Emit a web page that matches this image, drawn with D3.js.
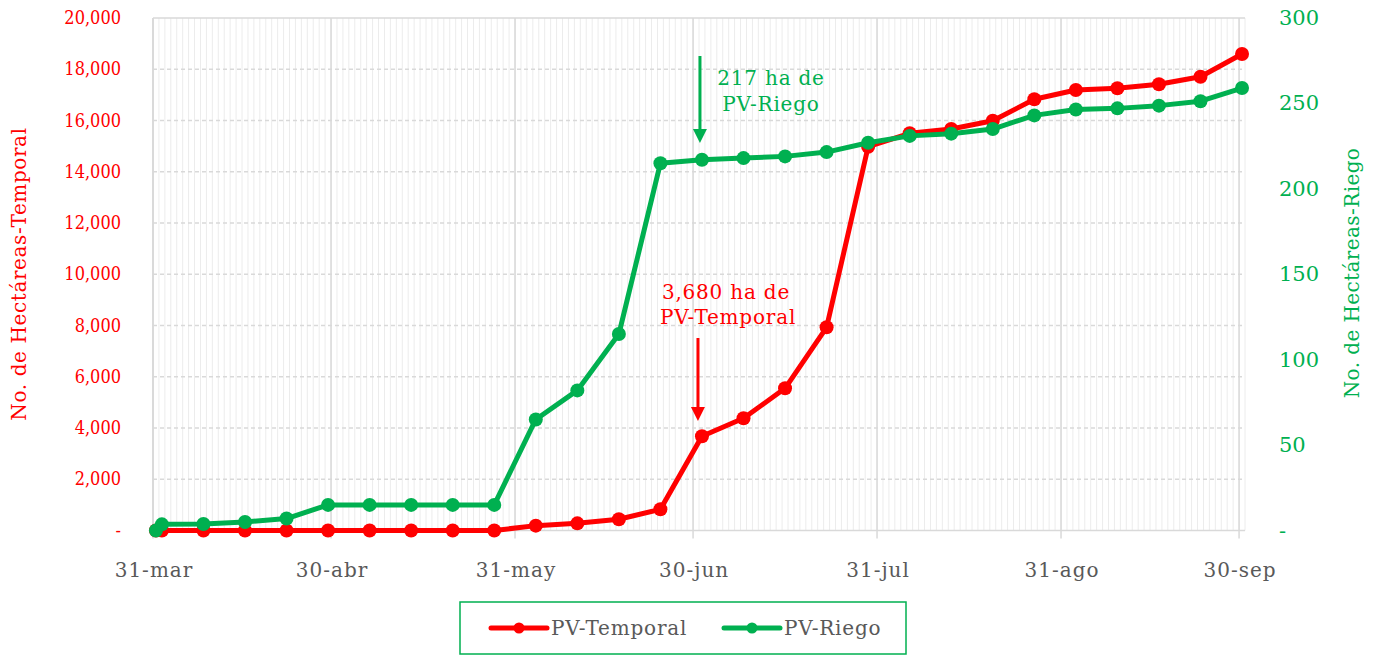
<!DOCTYPE html>
<html><head><meta charset="utf-8">
<script src="https://cdn.jsdelivr.net/npm/d3@7"></script>
<style>
html,body{margin:0;padding:0;background:#fff;}
svg text{font-family:"DejaVu Serif",serif;}
svg text.cond{font-family:"DejaVu Serif Condensed","DejaVu Serif",serif;}
</style></head>
<body>
<svg id="chart" width="1374" height="656"></svg>
<script>
const dates = ["2023-03-31","2023-04-01","2023-04-08","2023-04-15","2023-04-22","2023-04-29","2023-05-06","2023-05-13","2023-05-20","2023-05-27","2023-06-03","2023-06-10","2023-06-17","2023-06-24","2023-07-01","2023-07-08","2023-07-15","2023-07-22","2023-07-29","2023-08-05","2023-08-12","2023-08-19","2023-08-26","2023-09-02","2023-09-09","2023-09-16","2023-09-23","2023-09-30"];
const temporal = [0,0,0,0,0,0,0,0,0,0,190,280,437,827,3680,4378,5549,7930,14977,15500,15668,15992,16827,17190,17256,17412,17709,18595];
const riego = [0,3.6,3.8,5,7,15,15,15,15,15,65,82,115,215,217,218,219,221.5,227,231,232.3,235,243,246.4,247.1,248.7,251.3,259];
const xTickDates = ["2023-03-31","2023-04-30","2023-05-31","2023-06-30","2023-07-31","2023-08-31","2023-09-30"];
const xTickLabels = ["31-mar","30-abr","31-may","30-jun","31-jul","31-ago","30-sep"];
const leftTicks = [0,2000,4000,6000,8000,10000,12000,14000,16000,18000,20000];
const rightTicks = [0,50,100,150,200,250,300];
const seriesNames = ["PV-Temporal","PV-Riego"];

const RED = "#FF0000", GREEN = "#00B050", GRAY = "#595959";
const parse = d3.timeParse("%Y-%m-%d");
const svg = d3.select("#chart");
const L = 153, R = 1245, T = 18, B = 530.5;

const x = d3.scaleTime().domain([parse("2023-03-31"), parse("2023-10-01")]).range([L, R]);
const xc = d => x(d3.timeHour.offset(d, 12)); // point at day centre
const yL = d3.scaleLinear().domain([0,20000]).range([B, T]);
const yR = d3.scaleLinear().domain([0,300]).range([B, T]);

// minor daily gridlines
const days = d3.timeDay.range(parse("2023-03-31"), parse("2023-10-02"));
svg.append("g").selectAll("line").data(days).join("line")
  .attr("x1", d => x(d)).attr("x2", d => x(d)).attr("y1", T).attr("y2", B)
  .attr("stroke", "#ececec").attr("stroke-width", 1);
// horizontal dashed gridlines
svg.append("g").selectAll("line").data(leftTicks.slice(1)).join("line")
  .attr("x1", L).attr("x2", R).attr("y1", d => yL(d)).attr("y2", d => yL(d))
  .attr("stroke", "#d9d9d9").attr("stroke-width", 1.3)
  .attr("stroke-dasharray", d => d === 20000 ? null : "4,3");
// major monthly gridlines
const majors = xTickDates.map(parse);
svg.append("g").selectAll("line").data(majors).join("line")
  .attr("x1", d => x(d)).attr("x2", d => x(d)).attr("y1", T).attr("y2", B + 8)
  .attr("stroke", "#d9d9d9").attr("stroke-width", 1.5);
// left border and bottom axis
svg.append("line").attr("x1", L).attr("x2", L).attr("y1", T).attr("y2", B).attr("stroke", "#d9d9d9").attr("stroke-width", 1.5);
svg.append("line").attr("x1", L).attr("x2", R).attr("y1", B).attr("y2", B).attr("stroke", "#d9d9d9").attr("stroke-width", 1.5);

// axes labels
svg.append("g").selectAll("text").data(xTickDates).join("text")
  .attr("x", d => x(parse(d)) + 1).attr("y", 577).attr("text-anchor", "middle")
  .attr("fill", GRAY).attr("font-size", 20).attr("letter-spacing", 1).text((d, i) => xTickLabels[i]);
const fmt = d3.format(",");
svg.append("g").selectAll("text").data(leftTicks).join("text")
  .attr("class", "cond")
  .attr("x", 121).attr("y", d => yL(d) + 6).attr("text-anchor", "end")
  .attr("fill", RED).attr("font-size", 18).text(d => d === 0 ? "-" : fmt(d));
svg.append("g").selectAll("text").data(rightTicks).join("text")
  .attr("x", 1279).attr("y", d => yR(d) + 7).attr("text-anchor", "start")
  .attr("fill", GREEN).attr("font-size", 21).text(d => d === 0 ? "-" : fmt(d));

svg.append("text").attr("transform", "translate(26,274) rotate(-90)").attr("text-anchor", "middle")
  .attr("fill", RED).attr("font-size", 20).attr("letter-spacing", 0.6).text("No. de Hectáreas-Temporal");
svg.append("text").attr("transform", "translate(1359,273) rotate(-90)").attr("text-anchor", "middle")
  .attr("fill", GREEN).attr("font-size", 20).attr("letter-spacing", 0.4).text("No. de Hectáreas-Riego");

// series
const tData = dates.map((d, i) => ({d: parse(d), v: temporal[i]}));
const rData = dates.map((d, i) => ({d: parse(d), v: riego[i]}));
function drawSeries(data, y, color) {
  const g = svg.append("g");
  g.append("path").datum(data)
    .attr("d", d3.line().x(p => xc(p.d)).y(p => y(p.v)))
    .attr("fill", "none").attr("stroke", color).attr("stroke-width", 5).attr("stroke-linejoin", "round");
  g.selectAll("circle").data(data).join("circle")
    .attr("cx", p => xc(p.d)).attr("cy", p => y(p.v)).attr("r", 7).attr("fill", color);
}
drawSeries(tData, yL, RED);
drawSeries(rData, yR, GREEN);

// annotations
const arrDate = parse("2023-07-01");
function arrow(xp, y1, y2, color) {
  svg.append("line").attr("x1", xp).attr("x2", xp).attr("y1", y1).attr("y2", y2 - 12)
    .attr("stroke", color).attr("stroke-width", 3);
  svg.append("path").attr("d", `M${xp-7},${y2-14}L${xp+7},${y2-14}L${xp},${y2}Z`).attr("fill", color);
}
arrow(xc(arrDate) - 2, 56, 143, GREEN);
arrow(xc(arrDate) - 4, 338, 421, RED);
const annStyle = s => s.attr("text-anchor", "middle").attr("font-size", 20).attr("letter-spacing", 0.8);
svg.append("text").attr("x", 771).attr("y", 85).attr("fill", GREEN).call(annStyle).text("217 ha de");
svg.append("text").attr("x", 771).attr("y", 111).attr("fill", GREEN).call(annStyle).text("PV-Riego");
svg.append("text").attr("x", 726).attr("y", 299).attr("fill", RED).call(annStyle).text("3,680 ha de");
svg.append("text").attr("x", 728).attr("y", 324).attr("fill", RED).call(annStyle).text("PV-Temporal");

// legend
svg.append("rect").attr("x", 460).attr("y", 602).attr("width", 446).attr("height", 52)
  .attr("fill", "none").attr("stroke", GREEN).attr("stroke-width", 1.5);
const legend = [{name: seriesNames[0], color: RED, x0: 491}, {name: seriesNames[1], color: GREEN, x0: 724}];
legend.forEach(l => {
  svg.append("line").attr("x1", l.x0).attr("x2", l.x0 + 56).attr("y1", 628).attr("y2", 628)
    .attr("stroke", l.color).attr("stroke-width", 5).attr("stroke-linecap", "round");
  svg.append("circle").attr("cx", l.x0 + 28).attr("cy", 628).attr("r", 5.5).attr("fill", l.color);
  svg.append("text").attr("x", l.x0 + 60).attr("y", 635).attr("fill", GRAY).attr("font-size", 20).attr("letter-spacing", 0.8).text(l.name);
});
</script>
</body></html>
